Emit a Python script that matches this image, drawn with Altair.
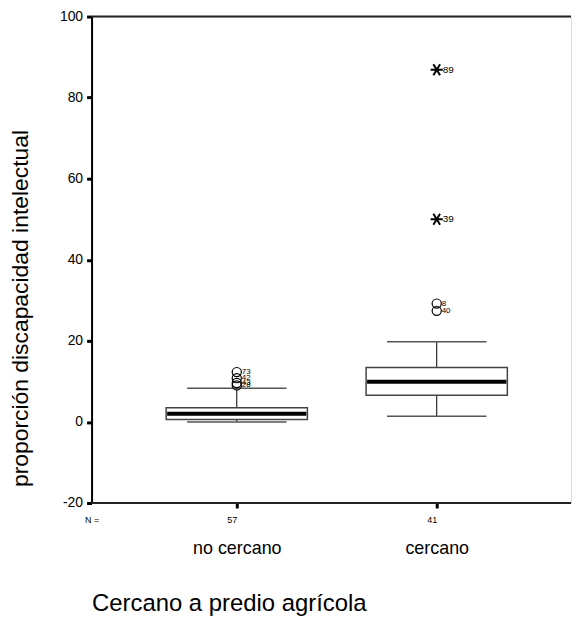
import altair as alt
import pandas as pd

# ---- data ----
groups = ["no cercano", "cercano"]
n_counts = ["57", "41"]
q1 = [0.6, 6.6]
median = [2.0, 9.9]
q3 = [3.5, 13.4]
whisk_lo = [0.0, 1.4]
whisk_hi = [8.3, 19.8]

outlier_group = ["no cercano", "no cercano", "no cercano", "no cercano", "cercano", "cercano"]
outlier_val = [12.3, 10.8, 9.6, 9.0, 29.2, 27.4]
outlier_lab = ["73", "42", "43", "28", "8", "40"]

extreme_group = ["cercano", "cercano"]
extreme_val = [86.9, 50.0]
extreme_lab = ["89", "39"]

y_ticks = [-20, 0, 20, 40, 60, 80, 100]
y_domain = [-20, 100]
frame_lines = [100, -20]

FONT = "Liberation Sans"
W, H = 482, 489
BOX_W = 142
CAP_W = 100
X_RANGE = [146, 347]

box_df = pd.DataFrame({"g": groups, "q1": q1, "med": median, "q3": q3,
                       "lo": whisk_lo, "hi": whisk_hi, "n": n_counts})
out_df = pd.DataFrame({"g": outlier_group, "v": outlier_val, "lab": outlier_lab})
ext_df = pd.DataFrame({"g": extreme_group, "v": extreme_val, "lab": extreme_lab})
frame_df = pd.DataFrame({"v": frame_lines})

n_map = dict(zip(groups, n_counts))
label_expr = " : ".join(
    [f"datum.value == '{g}' ? '{n}'" for g, n in n_map.items()] + ["''"])

xscale = alt.Scale(type="point", domain=groups, range=X_RANGE, padding=0)
yscale = alt.Scale(domain=y_domain, nice=False, zero=False)

x_n = alt.X("g:N", scale=xscale, sort=groups,
            axis=alt.Axis(orient="bottom", title="N =", labelExpr=label_expr,
                          labelAngle=0, labelFontSize=9, labelFont=FONT,
                          labelColor="black", labelPadding=12,
                          domain=False,
                          ticks=True, tickSize=5, tickWidth=3, tickColor="black",
                          titleFontSize=9, titleFont=FONT, titleFontWeight="normal",
                          titleColor="black", titleX=0, titleY=13,
                          titleAlign="center", titleBaseline="top", titleAngle=0))
x_plain = alt.X("g:N", scale=xscale, sort=groups)

y_enc = alt.Y("q1:Q", scale=yscale,
              axis=alt.Axis(values=y_ticks, title="proporción discapacidad intelectual",
                            labelExpr="'' + datum.value",
                            grid=False, labelFontSize=14, labelFont=FONT,
                            labelColor="black", labelPadding=4,
                            domain=True, domainColor="black", domainWidth=2,
                            ticks=True, tickSize=5, tickWidth=3, tickColor="black",
                            titleFontSize=23, titleFont=FONT, titleFontWeight="normal",
                            titleColor="black", titleX=-71, titleY=293,
                            titleAlign="center", titleBaseline="middle"))

base = alt.Chart(box_df)

whisk_low = base.mark_rule(color="black", strokeWidth=1).encode(
    x=x_plain, y=alt.Y("lo:Q", scale=yscale), y2="q1:Q")
whisk_high = base.mark_rule(color="black", strokeWidth=1).encode(
    x=x_plain, y=alt.Y("q3:Q", scale=yscale), y2="hi:Q")
cap_low = base.mark_tick(size=CAP_W, thickness=1.5, color="#555555", opacity=1).encode(
    x=x_plain, y=alt.Y("lo:Q", scale=yscale))
cap_high = base.mark_tick(size=CAP_W, thickness=1.5, color="#555555", opacity=1).encode(
    x=x_plain, y=alt.Y("hi:Q", scale=yscale))
box = base.mark_bar(size=BOX_W, fill="white", stroke="#444444", strokeWidth=1.5).encode(
    x=x_n, y=y_enc, y2="q3:Q")
med = base.mark_tick(size=BOX_W - 2, thickness=4, color="black", opacity=1).encode(
    x=x_plain, y=alt.Y("med:Q", scale=yscale))

circles = alt.Chart(out_df).mark_point(shape="circle", size=85, filled=False,
                                       stroke="black", strokeWidth=1.2, opacity=1).encode(
    x=x_plain, y=alt.Y("v:Q", scale=yscale))
circle_lab = alt.Chart(out_df).mark_text(align="left", baseline="middle", dx=5,
                                         fontSize=8, font=FONT, color="black").encode(
    x=x_plain, y=alt.Y("v:Q", scale=yscale), text="lab:N")

ASTER = "M-1,0L1,0M-0.55,-0.9L0.55,0.9M-0.55,0.9L0.55,-0.9"
stars = alt.Chart(ext_df).mark_point(shape=ASTER, size=150, filled=False,
                                     stroke="black", strokeWidth=2, opacity=1).encode(
    x=x_plain, y=alt.Y("v:Q", scale=yscale))
star_lab = alt.Chart(ext_df).mark_text(align="left", baseline="middle", dx=6,
                                       fontSize=10, font=FONT, color="black").encode(
    x=x_plain, y=alt.Y("v:Q", scale=yscale), text="lab:N")

frame = alt.Chart(frame_df).mark_rule(color="#222222", strokeWidth=2).encode(
    y=alt.Y("v:Q", scale=yscale))

inner = alt.layer(frame, whisk_low, whisk_high, cap_low, cap_high, box, med,
                  circles, circle_lab, stars, star_lab)

names = alt.Chart(box_df).mark_point(opacity=0).encode(
    x=alt.X("g:N", scale=alt.Scale(type="point", domain=groups, range=X_RANGE, padding=0),
            sort=groups,
            axis=alt.Axis(orient="bottom", title="Cercano a predio agrícola",
                          labelAngle=0, labelFontSize=18, labelFont=FONT,
                          labelColor="black", labelPadding=37,
                          domain=False, ticks=False,
                          titleFontSize=24, titleFont=FONT, titleFontWeight="normal",
                          titleColor="black", titleX=0, titleY=108,
                          titleAlign="left", titleBaseline="alphabetic", titleAngle=0)),
    y=alt.Y("med:Q", scale=yscale))

chart = alt.layer(inner, names).resolve_scale(x="independent").resolve_axis(
    x="independent"
).properties(
    width=W, height=H,
    padding={"left": 2, "top": 0, "right": 0, "bottom": 0},
).configure_view(stroke=None).configure(background="white")

chart.save("out.html", embed_options={"renderer": "svg", "actions": False})
